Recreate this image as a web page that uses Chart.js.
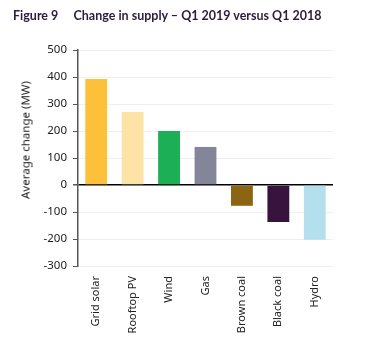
<!DOCTYPE html>
<html><head><meta charset="utf-8">
<script src="https://cdn.jsdelivr.net/npm/chart.js@4/dist/chart.umd.min.js"></script>
<style>
html,body{margin:0;padding:0;background:#fff;}
#wrap{position:relative;width:380px;height:360px;}
#title{position:absolute;left:13px;top:8px;font:bold 12.5px Lato,sans-serif;color:#2b1d3c;white-space:pre;}
#ytitle{position:absolute;left:25px;top:140px;transform:translate(-50%,-50%) rotate(-90deg);font-family:"Noto Sans",sans-serif;font-size:11.5px;color:#222;white-space:nowrap;}
canvas{position:absolute;left:0;top:0;}
</style></head>
<body>
<div id="wrap">
<canvas id="c" width="380" height="360"></canvas>
<div id="title">Figure 9     Change in supply – Q1 2019 versus Q1 2018</div>
<div id="ytitle">Average change (MW)</div>
</div>
<script>
const categories = ["Grid solar","Rooftop PV","Wind","Gas","Brown coal","Black coal","Hydro"];
const values = [393, 270, 200, 141, -77, -137, -203];
const colors = ["#FCC03A","#FDE4A6","#1DAF56","#858599","#8B6514","#37133D","#B4DFED"];
const yTicks = [-300,-200,-100,0,100,200,300,400,500];

new Chart(document.getElementById('c'), {
  type: 'bar',
  data: { labels: categories, datasets: [{ data: values, backgroundColor: colors, borderWidth: 0, barPercentage: 0.6, categoryPercentage: 1 }] },
  options: {
    responsive: false, animation: false, devicePixelRatio: 1,
    layout: { padding: { top: 50, left: 0, right: 47, bottom: 0 } },
    plugins: { legend: { display: false }, tooltip: { enabled: false } },
    scales: {
      x: {
        grid: { display: false, drawTicks: false },
        border: { display: false },
        ticks: { minRotation: 90, maxRotation: 90, padding: 10, color: '#222', font: { family: 'Noto Sans', size: 11 } },
        afterFit: s => { s.height = 94; }
      },
      y: {
        min: -300, max: 500,
        afterBuildTicks: s => { s.ticks = yTicks.map(v => ({ value: v })); },
        ticks: { padding: 6, color: '#222', font: { family: 'Noto Sans', size: 11.5 } },
        grid: {
          color: c => (c.tick && c.tick.value === 0) ? '#000' : '#efefef',
          lineWidth: c => (c.tick && c.tick.value === 0) ? 1.5 : 1,
          tickColor: '#555', tickLength: 5
        },
        border: { color: '#555', width: 1.5 },
        afterFit: s => { s.width = 78; }
      }
    }
  }
});
</script>
</body></html>
